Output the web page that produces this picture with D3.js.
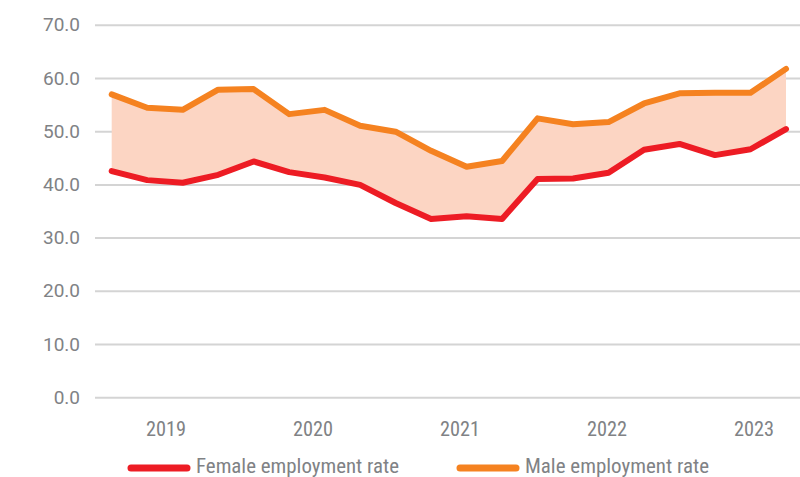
<!DOCTYPE html>
<html>
<head>
<meta charset="utf-8">
<script src="https://cdn.jsdelivr.net/npm/d3@7"></script>
<style>
  body { margin: 0; background: #fff; }
  svg { display: block; }
</style>
</head>
<body>
<svg width="800" height="477"></svg>
<script>
// employment rate by gender, quarterly
const quarters = [
  "2018Q4", "2019Q1", "2019Q2", "2019Q3", "2019Q4",
  "2020Q1", "2020Q2", "2020Q3", "2020Q4", "2021Q1",
  "2021Q2", "2021Q3", "2021Q4", "2022Q1", "2022Q2",
  "2022Q3", "2022Q4", "2023Q1", "2023Q2", "2023Q3"
];
const female = [42.5, 40.8, 40.3, 41.8, 44.3, 42.3, 41.3, 39.9, 36.5, 33.5,
                34.0, 33.5, 41.0, 41.1, 42.2, 46.5, 47.6, 45.5, 46.6, 50.4];
const male = [56.9, 54.4, 54.0, 57.8, 57.9, 53.2, 54.0, 51.0, 49.9, 46.3,
              43.3, 44.4, 52.4, 51.3, 51.7, 55.2, 57.1, 57.2, 57.2, 61.7];
const years = ["2019", "2020", "2021", "2022", "2023"];
const yTicks = [0, 10, 20, 30, 40, 50, 60, 70];

const svg = d3.select("svg");
const grey = "#808285";
const redCol = "#ed1c24";
const orangeCol = "#f58220";
const narrowFont = "'Roboto Condensed', 'Liberation Sans Narrow', 'DejaVu Sans Condensed', Roboto, sans-serif";

//scales
const x = d3.scalePoint().domain(quarters).range([111.7, 786]);
const y = d3.scaleLinear().domain([0, 70]).range([397.3, 24.7]);
const xYear = d3.scaleBand().domain(years).range([92.5, 827.5]);

//gridlines + y labels
const yAxis = svg.append("g")
  .attr("transform", "translate(95,0)")
  .call(d3.axisLeft(y).tickValues(yTicks).tickFormat(d3.format(".1f")).tickSize(-705).tickPadding(15));
yAxis.select(".domain").remove();
yAxis.selectAll(".tick line").attr("stroke", "#d4d4d4").attr("stroke-width", 2);
yAxis.selectAll(".tick text")
  .attr("fill", grey)
  .attr("font-size", 19)
  .attr("font-family", "Roboto, sans-serif");

//year labels
const xAxis = svg.append("g")
  .attr("transform", "translate(0,405)")
  .call(d3.axisBottom(xYear).tickSize(0).tickPadding(0));
xAxis.select(".domain").remove();
xAxis.selectAll(".tick text")
  .attr("dy", 0)
  .attr("y", 31)
  .attr("fill", grey)
  .attr("font-size", 21)
  .attr("font-family", narrowFont)
  .attr("textLength", 40)
  .attr("lengthAdjust", "spacingAndGlyphs");

const rows = quarters.map((q, i) => ({ q, f: female[i], m: male[i] }));

//shaded gap between lines
const area = d3.area()
  .x((d) => x(d.q))
  .y0((d) => y(d.f))
  .y1((d) => y(d.m));
svg.append("path")
  .datum(rows)
  .attr("d", area)
  .attr("fill", "#fcd5c3");

const line = (key) => d3.line().x((d) => x(d.q)).y((d) => y(d[key]));
svg.append("path")
  .datum(rows)
  .attr("d", line("m"))
  .attr("fill", "none")
  .attr("stroke", orangeCol)
  .attr("stroke-width", 6)
  .attr("stroke-linecap", "round")
  .attr("stroke-linejoin", "round");
svg.append("path")
  .datum(rows)
  .attr("d", line("f"))
  .attr("fill", "none")
  .attr("stroke", redCol)
  .attr("stroke-width", 6)
  .attr("stroke-linecap", "round")
  .attr("stroke-linejoin", "round");

//legend (sits right at the bottom edge, as in the original)
const legendItems = [
  { label: "Female employment rate", color: redCol, x: 131, w: 203 },
  { label: "Male employment rate", color: orangeCol, x: 460, w: 184 }
];
const legend = svg.append("g").attr("transform", "translate(0,468)");
legendItems.forEach((d) => {
  legend.append("line")
    .attr("x1", d.x).attr("x2", d.x + 56)
    .attr("stroke", d.color)
    .attr("stroke-width", 7)
    .attr("stroke-linecap", "round");
  legend.append("text")
    .text(d.label)
    .attr("x", d.x + 65)
    .attr("y", 5)
    .attr("fill", grey)
    .attr("font-size", 20)
    .attr("font-family", narrowFont)
    .attr("textLength", d.w)
    .attr("lengthAdjust", "spacingAndGlyphs");
});
</script>
</body>
</html>
